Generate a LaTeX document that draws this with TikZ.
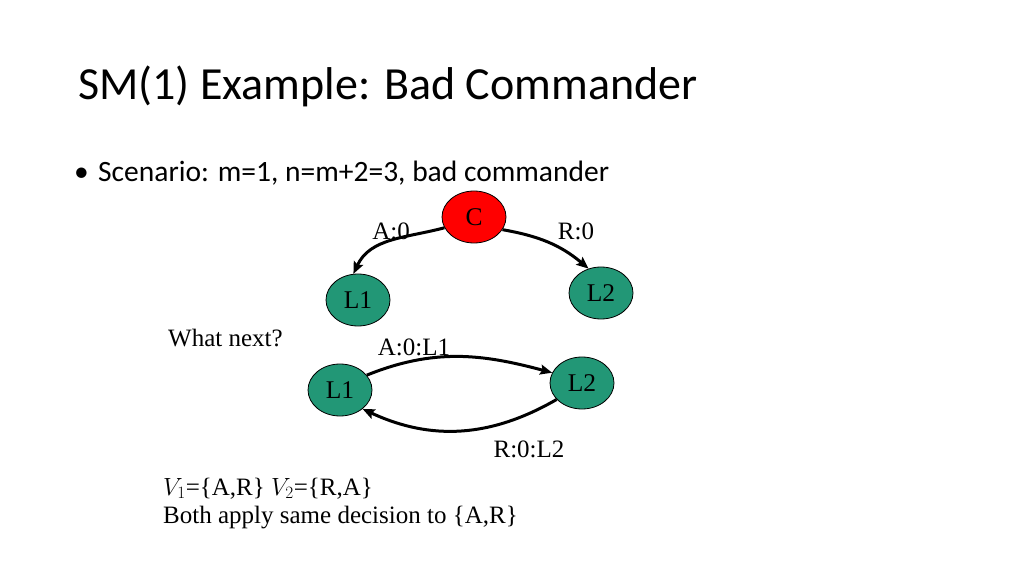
\documentclass[tikz,border=0pt]{standalone}
\usepackage{fontspec}
\setmainfont{Liberation Serif}
\newfontfamily\slidefont{Carlito}
\usetikzlibrary{arrows.meta}
\usetikzlibrary{shapes.geometric}
\definecolor{cmdred}{RGB}{255,0,0}
\definecolor{ltgreen}{RGB}{34,151,118}
\tikzset{
  general/.style={ellipse, draw=black, line width=0.8pt, inner sep=0pt,
    minimum width=64pt, minimum height=52pt,
    font=\fontsize{25.5}{28}\selectfont},
  msg/.style={line width=3pt, -{Stealth[length=12pt,width=10pt,inset=2pt]}},
  lbl/.style={anchor=base, inner sep=0pt, font=\fontsize{25}{28}\selectfont},
}
\begin{document}
\begin{tikzpicture}[x=1pt, y=1pt]
      \useasboundingbox (0, 0) rectangle (1024, 576);
      \node at (78, 476) [anchor=base west, inner sep=0pt] {\slidefont\fontsize{46}{50}\selectfont SM(1) Example: Bad Commander};
      \node at (74, 394) [anchor=base west, inner sep=0pt] {\slidefont\fontsize{29.5}{32}\selectfont\textbullet};
      \node at (98, 394) [anchor=base west, inner sep=0pt] {\slidefont\fontsize{29.5}{32}\selectfont Scenario: m=1, n=m+2=3, bad commander};
      % first round
      \node (C) at (474, 359) [general, fill=cmdred] {C};
      \node (L1a) at (358, 276) [general, fill=ltgreen] {L1};
      \node (L2a) at (601, 283) [general, fill=ltgreen] {L2};
      \draw[msg] (C.200) to[out=195, in=65] (L1a.100);
      \draw[msg] (C.336) to[out=-10, in=140] (L2a.117);
      \node at (391, 336) [lbl] {A:0};
      \node at (576, 336) [lbl] {R:0};
      % second round
      \node at (168, 230) [lbl, anchor=base west] {What next?};
      \node (L1b) at (340, 186) [general, fill=ltgreen] {L1};
      \node (L2b) at (582, 193) [general, fill=ltgreen] {L2};
      \draw[msg] (L1b.29) to[out=22, in=165] (L2b.161);
      \draw[msg] (L2b.213) to[out=210, in=-25] (L1b.320);
      \node at (414, 221) [lbl] {A:0:L1};
      \node at (529, 119) [lbl] {R:0:L2};
      % result
      \node at (163, 81) [lbl, anchor=base west] {$V_1$=\{A,R\} $V_2$=\{R,A\}};
      \node at (163, 53) [lbl, anchor=base west] {Both apply same decision to \{A,R\}};
    \end{tikzpicture}
\end{document}
